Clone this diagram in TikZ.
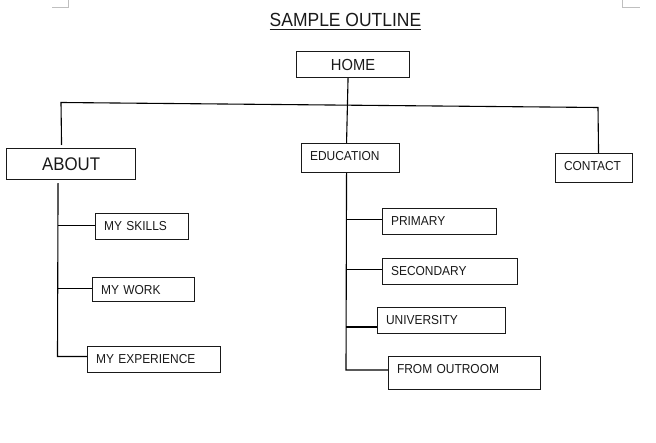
\documentclass[tikz,border=0pt]{standalone}
\usepackage{fontspec}
\setmainfont{Liberation Sans}
\newfontfamily\narrowsans{Liberation Sans}[FakeStretch=0.92]
\begin{document}
\begin{tikzpicture}[x=1pt,y=-1pt,
  box/.style={draw=black!90, line width=1.1pt, rectangle, anchor=north west,
    inner xsep=8.5pt, inner ysep=0pt, align=left, text height=9.3pt,
    font=\narrowsans\fontsize{13}{15}\selectfont, text=black!90},
  link/.style={draw=black, line width=1.1pt},
  cornermark/.style={draw=black!25, line width=0.8pt}]
\useasboundingbox (0,0) rectangle (656,443);
% page corner marks
\draw[cornermark] (52,7) -- (68.5,7) -- (68.5,0);
\draw[cornermark] (622,0) -- (622,7) -- (640,7);
% title
\node[font=\narrowsans\fontsize{19}{22}\selectfont, inner sep=0pt, anchor=base, text=black!90] (title) at (345.5,27) {SAMPLE OUTLINE};
\draw[line width=1.1pt, black!90] ([yshift=-2.2pt]title.base west) -- ([yshift=-2.2pt]title.base east);
% nodes
\node[box, text width=96pt, minimum height=26pt, align=center, font=\narrowsans\fontsize{16}{19}\selectfont, text height=11.4pt, text depth=0pt] (home) at (296,51) {HOME};
\node[box, text width=112pt, minimum height=31pt, align=center, font=\narrowsans\fontsize{18.3}{21}\selectfont, text height=13.1pt, text depth=0pt] (about) at (6,148) {ABOUT};
\node[box, text width=81pt, minimum height=29pt, text depth=4pt] (edu) at (301,143) {EDUCATION};
\node[box, text width=60pt, minimum height=29pt, text depth=4pt] (contact) at (555,153) {CONTACT};
\node[box, text width=76pt, minimum height=26pt, text depth=1pt] (ms) at (95,213) {MY SKILLS};
\node[box, text width=85pt, minimum height=24pt, text depth=0pt] (mw) at (92,277) {MY WORK};
\node[box, text width=116pt, minimum height=26pt, text depth=1pt] (mexp) at (87,346) {MY EXPERIENCE};
\node[box, text width=97pt, minimum height=26pt, text depth=2pt] (pr) at (382,208) {PRIMARY};
\node[box, text width=118pt, minimum height=26pt, text depth=1pt] (sec) at (382,258) {SECONDARY};
\node[box, text width=111pt, minimum height=26pt, text depth=2pt] (uni) at (377,307) {UNIVERSITY};
\node[box, text width=135pt, minimum height=33pt, text depth=8pt] (fo) at (388,356) {FROM OUTROOM};
% top-level connectors
\coordinate (busL) at (61,102.5);
\coordinate (busR) at (598,107.5);
\draw[link] ([xshift=-9.5pt,yshift=3pt]about.north) -- (busL) -- (busR) -- ([xshift=4.5pt]contact.north);
\draw[link] ([xshift=-5pt]home.south) -- ([xshift=-4pt]edu.north);
% about branch
\coordinate (aend) at (57.5,356.5);
\coordinate (msw) at ([yshift=1pt]ms.west);
\coordinate (mww) at ([yshift=1pt]mw.west);
\draw[link] ([xshift=-13pt,yshift=-3pt]about.south) -- (aend) -- (aend -| mexp.west);
\draw[link] (aend |- msw) -- (msw);
\draw[link] (aend |- mww) -- (mww);
% education branch
\coordinate (eend) at (346,370);
\coordinate (prw) at ([yshift=2pt]pr.west);
\coordinate (secw) at ([yshift=2pt]sec.west);
\coordinate (uniw) at ([yshift=-6.5pt]uni.west);
\draw[link] ([xshift=-4pt]edu.south) -- (eend) -- (eend -| fo.west);
\draw[link] (eend |- prw) -- (prw);
\draw[link] (eend |- secw) -- (secw);
\draw[link] (eend |- uniw) -- (uniw);
\end{tikzpicture}
\end{document}
